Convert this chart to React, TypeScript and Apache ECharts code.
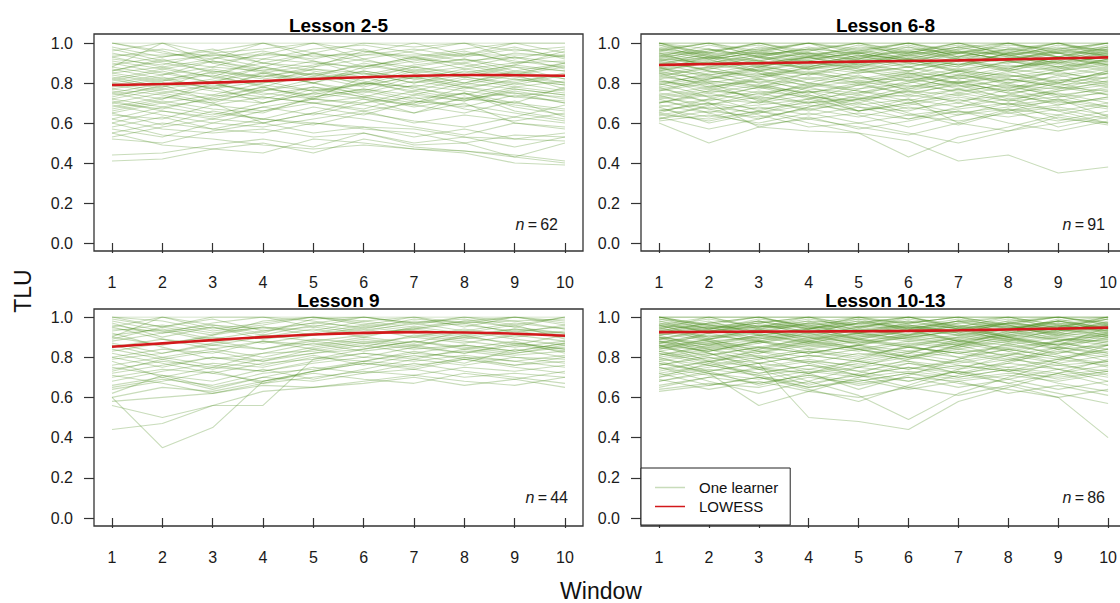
import React, { useEffect, useRef } from "react";
import * as echarts from "echarts";

const FONT = "'Liberation Sans', Arial, Helvetica, sans-serif";
const GREEN = "rgba(72,140,28,0.3)";
const RED = "#d3181b";

const windows = [1, 2, 3, 4, 5, 6, 7, 8, 9, 10];
const panelTitles = ["Lesson 2-5", "Lesson 6-8", "Lesson 9", "Lesson 10-13"];
const panelN = [62, 91, 44, 86];

// TLU per learner, in percent, windows 1..10
const lesson2to5: number[][] = [
  [100,100,100,100,100,100,100,100,100,100],[94,94,94,94,94,94,94,94,94,94],
  [100,95,92,100,93,95,100,94,100,95],[88,100,90,94,100,92,96,100,92,97],
  [92,89,95,90,88,96,92,90,95,93],[85,88,83,92,90,88,93,87,90,91],
  [80,84,88,86,91,84,89,92,86,90],[90,85,80,88,83,90,85,88,93,87],
  [78,82,85,80,87,83,88,84,89,86],[75,80,78,84,80,86,82,87,84,88],
  [83,78,86,82,85,79,86,83,80,85],[72,77,74,80,83,78,84,80,86,82],
  [70,75,79,76,82,85,80,86,83,80],[68,73,70,77,74,80,78,83,79,84],
  [65,70,74,72,78,75,81,77,82,79],[62,68,72,70,75,80,76,82,78,81],
  [87,82,77,85,80,76,83,79,84,77],[95,90,86,83,88,92,86,90,85,89],
  [76,72,80,75,72,83,77,74,80,76],[73,79,71,76,80,74,70,78,75,73],
  [80,76,72,78,85,81,75,71,77,74],[66,71,67,65,73,77,72,75,70,78],
  [64,62,69,73,70,67,74,71,76,72],[60,66,63,68,72,69,65,73,69,66],
  [82,87,91,86,80,88,93,89,84,90],[98,93,97,90,95,88,92,96,90,94],
  [86,91,88,95,92,97,90,94,98,92],[77,74,69,66,72,76,71,68,74,70],
  [71,66,62,68,64,70,73,67,63,69],[69,64,60,58,62,66,60,64,61,65],
  [55,60,57,62,59,65,61,58,63,60],[53,58,62,60,65,62,58,54,60,57],
  [52,50,56,60,55,58,53,57,52,55],[44,45,49,52,48,55,50,53,48,53],
  [41,42,47,50,45,52,48,46,43,50],[55,49,47,45,52,50,47,46,44,41],
  [60,54,52,49,47,49,47,45,40,39],[62,57,55,57,53,55,49,50,43,40],
  [75,70,65,62,60,58,57,53,52,51],[58,63,57,55,60,57,55,50,54,53],
  [67,72,78,70,75,72,69,75,66,62],[79,75,70,60,65,72,65,70,60,58],
  [84,80,76,73,70,66,70,75,68,64],[91,87,83,79,76,80,78,72,75,70],
  [88,84,91,87,84,89,85,80,77,74],[74,78,82,88,84,80,87,83,88,82],
  [81,86,80,74,78,73,68,72,78,75],[93,97,93,88,95,91,88,92,88,86],
  [100,96,90,85,89,94,97,93,97,93],[96,100,95,97,100,96,93,97,100,100],
  [89,93,96,100,95,100,98,100,96,98],[85,81,87,83,87,85,80,84,82,79],
  [79,83,77,81,76,79,83,78,73,77],[70,67,73,78,72,70,76,72,70,67],
  [57,53,60,66,70,73,69,65,71,63],[65,59,66,62,68,64,71,69,65,61],
  [72,68,64,70,77,73,79,76,73,71],[77,81,84,78,73,77,74,80,85,80],
  [82,77,81,85,82,86,82,78,81,84],[86,92,85,90,86,82,88,85,89,96],
  [93,88,92,96,91,87,91,95,91,88],[97,91,94,92,97,99,95,91,93,90],
];

const lesson6to8: number[][] = [
  [100,100,100,100,100,100,100,100,100,100],[100,100,100,100,100,100,100,100,100,100],
  [95,95,95,95,95,95,95,95,95,95],[100,95,100,96,100,95,100,96,100,95],
  [96,100,95,100,96,100,95,100,96,100],[93,96,100,94,97,100,93,97,100,96],
  [100,93,96,100,92,96,100,94,97,100],[94,97,93,98,94,92,97,100,95,97],
  [97,92,95,93,98,95,92,96,93,98],[91,94,97,92,95,98,94,91,96,94],
  [92,90,94,97,91,94,98,93,90,95],[89,93,91,95,93,90,96,94,98,93],
  [95,91,89,93,96,92,89,95,92,96],[88,92,95,90,88,94,91,97,93,91],
  [90,87,92,95,91,88,93,90,95,92],[86,90,88,92,95,91,88,93,89,94],
  [93,89,86,90,93,96,92,88,91,97],[85,88,91,87,90,93,89,92,95,90],
  [97,94,90,88,92,89,95,92,88,91],[84,87,90,93,89,86,91,94,90,93],
  [91,86,84,89,86,90,87,90,93,89],[87,84,88,85,89,92,86,89,86,90],
  [82,86,83,88,85,88,92,87,84,88],[94,89,93,91,87,84,90,86,91,87],
  [80,84,87,84,88,85,83,88,90,86],[88,83,86,82,85,88,84,81,86,89],
  [83,80,84,87,83,81,86,84,81,85],[79,83,80,85,82,86,82,85,88,84],
  [86,81,78,83,80,83,80,83,85,82],[78,82,85,80,77,80,84,80,83,87],
  [81,78,82,79,83,78,81,78,80,83],[76,80,77,82,79,82,78,82,79,81],
  [84,79,75,78,81,77,80,76,82,78],[74,78,81,77,75,79,76,79,77,80],
  [77,73,78,75,79,75,79,75,78,76],[72,76,74,79,76,73,77,73,76,79],
  [75,71,76,73,71,76,74,78,74,77],[70,74,72,76,74,70,75,71,73,75],
  [73,69,73,70,72,74,71,74,70,72],[68,72,70,74,69,72,68,72,75,70],
  [71,67,69,72,66,69,73,69,72,68],[66,70,67,70,73,67,70,66,69,73],
  [69,65,71,67,70,64,67,70,66,70],[64,68,65,69,66,70,65,68,71,67],
  [67,63,68,64,68,66,72,65,68,64],[62,66,63,67,63,68,64,67,64,69],
  [65,61,66,62,65,62,66,63,67,62],[61,64,60,65,60,64,61,65,61,66],
  [90,84,78,72,75,81,86,82,78,85],[82,75,70,78,84,76,70,77,84,79],
  [95,88,82,76,70,77,84,91,86,80],[87,93,86,80,86,92,85,79,73,78],
  [76,82,88,93,87,81,75,80,86,92],[70,76,82,88,94,88,82,87,93,88],
  [65,72,78,85,80,74,80,86,80,74],[85,78,72,66,72,78,83,77,71,76],
  [92,86,80,74,68,62,68,74,80,86],[80,73,66,72,79,85,79,72,66,60],
  [74,67,62,68,74,80,86,80,74,68],[68,60,65,71,64,58,64,70,62,60],
  [63,57,62,68,72,65,59,66,72,63],[60,50,58,63,57,61,66,60,56,61],
  [72,65,59,62,58,54,60,56,63,59],[66,70,58,56,55,43,53,58,64,60],
  [64,62,66,60,55,51,41,44,35,38],[78,70,64,58,60,55,50,56,60,64],
  [88,80,71,76,66,72,60,67,58,63],[99,92,85,78,72,76,81,75,69,73],
  [62,69,75,70,77,83,77,71,77,83],[96,100,93,87,92,98,92,86,92,98],
  [100,94,88,93,99,94,89,95,100,93],[89,95,100,95,89,95,100,94,88,94],
  [93,99,94,88,93,99,93,100,95,89],[98,93,97,100,95,91,96,91,97,100],
  [100,97,91,96,100,93,98,100,93,97],[91,96,99,93,88,92,97,93,99,96],
  [97,100,96,91,95,100,95,98,93,99],[86,91,96,100,97,92,88,95,100,94],
  [94,90,86,91,96,100,96,91,87,92],[99,95,91,87,91,95,99,95,91,95],
  [92,97,93,97,100,96,93,97,95,100],[96,92,98,94,90,94,98,94,90,96],
  [90,93,89,94,92,97,95,99,97,93],[87,90,94,97,95,91,95,92,96,98],
  [83,88,93,89,94,90,86,91,88,92],[79,85,89,84,90,86,91,87,93,89],
  [85,82,87,91,86,83,87,83,87,91],[81,77,83,86,81,85,80,84,80,86],
  [77,81,79,75,80,84,80,76,81,85],[73,77,73,80,76,71,77,82,78,74],
  [70,75,79,73,66,70,74,69,76,81],
];

const lesson9: number[][] = [
  [100,100,100,100,100,100,100,100,100,100],[100,95,100,100,95,100,97,100,96,100],
  [95,100,94,97,100,96,100,95,100,97],[94,93,96,94,97,95,98,96,93,95],
  [93,96,92,95,93,98,95,98,95,92],[97,90,95,91,96,93,97,93,97,94],
  [91,94,89,93,95,92,94,97,92,96],[88,92,95,89,92,96,93,90,94,91],
  [90,86,91,95,91,94,90,94,90,93],[85,89,86,90,94,90,95,92,96,89],
  [83,87,90,87,91,95,92,89,93,90],[80,84,82,88,86,90,87,93,89,86],
  [79,82,86,84,88,85,91,88,85,88],[76,80,84,80,85,89,86,90,87,84],
  [74,78,75,82,83,87,84,86,83,87],[72,76,80,78,82,84,88,84,88,82],
  [70,74,72,77,79,82,80,83,80,79],[68,73,77,75,80,78,83,79,82,85],
  [66,70,75,73,77,80,78,81,78,81],[65,69,66,72,74,78,76,79,76,78],
  [64,68,73,67,70,73,71,75,73,76],[62,71,65,70,68,72,74,70,72,70],
  [60,65,63,68,72,69,67,72,69,73],[58,60,62,66,65,68,71,68,66,70],
  [56,50,56,63,65,67,70,66,69,65],[44,47,56,56,79,84,88,85,82,86],
  [60,35,45,68,73,78,82,80,76,80],[78,70,64,70,75,72,77,73,70,67],
  [82,77,72,68,73,77,74,79,75,72],[75,71,68,74,69,74,79,76,80,77],
  [86,80,76,73,78,82,79,84,81,83],[80,75,80,76,81,76,81,77,84,80],
  [92,85,79,82,87,83,86,82,87,84],[98,93,88,84,89,87,90,87,91,88],
  [95,89,84,88,84,88,85,91,86,91],[87,82,87,91,88,91,94,91,94,92],
  [73,79,83,78,84,80,85,82,86,83],[84,79,74,79,82,86,82,86,83,87],
  [99,95,91,98,100,97,94,98,100,96],[89,95,99,93,97,100,96,100,98,94],
  [96,92,97,100,98,94,99,97,100,98],[90,100,96,92,99,100,97,99,95,100],
  [100,98,93,96,100,98,100,97,98,99],[71,67,62,67,73,77,75,80,78,75],
];

const lesson10to13: number[][] = [
  [100,100,100,100,100,100,100,100,100,100],[100,100,100,100,100,100,100,100,100,100],
  [100,100,100,100,100,100,100,100,100,100],[95,95,95,95,95,95,95,95,95,95],
  [100,96,100,95,100,97,100,96,100,97],[96,100,95,100,96,100,95,100,96,100],
  [100,94,97,100,93,97,100,94,98,100],[93,97,100,94,98,95,93,98,100,96],
  [97,93,96,92,97,100,96,93,97,94],[92,96,93,97,94,91,97,95,92,98],
  [98,92,95,98,92,95,92,97,94,96],[94,98,91,94,99,93,95,91,96,93],
  [91,94,97,91,95,98,94,97,93,95],[89,93,95,96,91,94,98,92,95,99],
  [96,90,93,89,94,90,93,96,90,94],[90,87,91,94,90,93,89,94,97,92],
  [87,91,88,92,88,91,94,90,93,97],[93,89,92,87,91,88,91,95,91,89],
  [85,89,93,90,87,92,88,91,94,91],[88,85,89,93,89,86,90,87,91,95],
  [92,88,85,89,92,89,86,93,88,93],[84,88,90,86,90,94,91,88,92,90],
  [86,83,87,91,87,90,93,89,86,92],[90,86,83,87,84,88,85,91,89,88],
  [83,87,84,88,85,82,88,86,90,87],[88,84,88,84,88,85,82,85,88,91],
  [81,85,82,86,83,87,84,88,84,86],[85,81,85,82,86,83,87,83,87,84],
  [80,84,80,84,81,85,82,86,82,88],[83,79,83,80,84,80,84,81,85,82],
  [78,82,79,83,79,83,80,84,80,84],[82,78,81,77,82,79,83,79,83,80],
  [76,80,77,81,78,82,78,82,79,83],[79,76,80,78,76,80,77,81,77,81],
  [74,78,75,79,75,78,75,79,76,78],[77,73,77,74,78,74,78,75,79,76],
  [72,76,72,76,73,77,74,77,74,78],[75,71,74,72,75,72,76,73,76,73],
  [70,74,71,74,71,75,72,75,72,76],[68,72,69,73,70,73,70,74,71,74],
  [66,70,67,71,68,72,69,72,70,73],[64,67,65,70,67,70,68,71,68,72],
  [63,66,70,67,71,68,73,69,74,70],[90,82,74,66,72,79,86,80,74,68],
  [95,88,80,72,64,71,79,87,81,75],[80,73,66,72,79,86,80,73,67,63],
  [86,78,70,64,58,66,74,81,88,82],[75,68,62,68,75,82,89,83,77,71],
  [91,84,77,50,48,44,58,65,72,79],[88,82,75,68,61,49,62,70,78,86],
  [82,76,71,65,68,72,67,64,60,40],[78,72,56,63,70,77,72,67,62,57],
  [96,89,83,77,71,65,71,77,84,90],[99,94,88,82,86,91,96,90,84,78],
  [70,77,84,90,84,78,72,78,85,91],[85,92,98,92,86,80,86,92,98,93],
  [94,100,94,88,94,100,94,88,94,100],[100,95,89,94,100,94,88,93,99,94],
  [92,97,100,95,89,93,98,100,94,90],[97,92,87,92,97,100,95,90,95,100],
  [89,94,99,96,92,97,100,96,91,96],[100,96,92,97,100,96,92,97,100,96],
  [95,99,95,99,95,99,95,99,95,99],[98,94,98,94,98,94,98,94,98,94],
  [93,97,94,98,96,93,97,100,96,92],[99,96,93,96,99,97,94,97,100,97],
  [91,95,98,94,97,95,99,95,98,95],[96,93,97,100,95,98,94,98,93,99],
  [87,92,96,93,97,94,98,96,92,96],[94,90,94,97,93,96,93,97,95,91],
  [89,86,90,95,92,95,91,94,98,94],[92,95,91,87,92,96,92,89,93,97],
  [84,89,94,90,95,91,87,92,96,93],[81,86,91,88,92,89,94,90,86,95],
  [87,83,88,93,89,85,90,94,89,86],[79,83,88,85,89,93,88,84,88,92],
  [76,81,85,82,86,90,86,90,86,89],[73,78,82,88,84,80,85,89,85,81],
  [71,75,79,83,80,85,82,78,82,86],[68,73,77,81,78,74,79,84,80,77],
  [65,70,75,72,77,81,76,73,79,84],[83,77,72,76,71,75,70,74,69,73],
  [77,72,67,71,66,70,65,69,64,68],[86,80,74,78,73,68,73,67,72,66],
  [72,66,70,65,69,64,68,62,66,61],[69,64,68,63,60,65,61,66,60,64],
];

const lowess2to5 = [0.79, 0.795, 0.802, 0.81, 0.82, 0.829, 0.836, 0.84, 0.839, 0.836];
const lowess6to8 = [0.89, 0.895, 0.899, 0.903, 0.907, 0.91, 0.913, 0.918, 0.923, 0.928];
const lowess9 = [0.852, 0.869, 0.885, 0.9, 0.913, 0.921, 0.925, 0.923, 0.917, 0.907];
const lowess10to13 = [0.925, 0.926, 0.927, 0.928, 0.929, 0.931, 0.934, 0.938, 0.942, 0.947];

const learnerSets = [lesson2to5, lesson6to8, lesson9, lesson10to13];
const lowessSets = [lowess2to5, lowess6to8, lowess9, lowess10to13];

const grids = [
  { left: 112, top: 43, width: 453, height: 200 },
  { left: 659, top: 43, width: 453, height: 200 },
  { left: 112, top: 317, width: 453, height: 201 },
  { left: 659, top: 317, width: 453, height: 201 },
];
const boxes = [
  { x: 94, y: 34, width: 489, height: 217 },
  { x: 641, y: 34, width: 489, height: 217 },
  { x: 94, y: 309, width: 489, height: 217 },
  { x: 641, y: 309, width: 489, height: 217 },
];

export default function App() {
  const ref = useRef<HTMLDivElement>(null);
  useEffect(() => {
    if (!ref.current) return;
    const chart = echarts.init(ref.current, undefined, { renderer: "svg" });

    const series: any[] = [];
    learnerSets.forEach((set, pi) => {
      set.forEach((row) => {
        series.push({
          type: "line",
          name: "One learner",
          xAxisIndex: pi,
          yAxisIndex: pi,
          data: row.map((v, i) => [windows[i], v / 100]),
          symbol: "none",
          showSymbol: false,
          silent: true,
          color: GREEN,
          lineStyle: { color: GREEN, width: 1.1 },
          itemStyle: { color: GREEN },
          z: 2,
        });
      });
    });
    lowessSets.forEach((set, pi) => {
      series.push({
        type: "line",
        name: "LOWESS",
        xAxisIndex: pi,
        yAxisIndex: pi,
        data: set.map((v, i) => [windows[i], v]),
        symbol: "none",
        showSymbol: false,
        smooth: 0.3,
        silent: true,
        color: RED,
        lineStyle: { color: RED, width: 2.6 },
        itemStyle: { color: RED },
        z: 3,
      });
    });

    const axisText = { fontSize: 16, color: "#1a1a1a", fontFamily: FONT };

    const graphic: any[] = [];
    boxes.forEach((b) => {
      graphic.push({
        type: "rect",
        shape: { x: b.x, y: b.y, width: b.width, height: b.height },
        style: { fill: "none", stroke: "#333", lineWidth: 1.3 },
        z: 10,
        silent: true,
      });
    });
    const titlePos = [
      [338.5, 25],
      [885.5, 25],
      [338.5, 300],
      [885.5, 300],
    ];
    panelTitles.forEach((t, i) => {
      graphic.push({
        type: "text",
        x: titlePos[i][0],
        y: titlePos[i][1],
        style: {
          text: t,
          align: "center",
          verticalAlign: "middle",
          fontSize: 19,
          fontWeight: "bold",
          fontFamily: FONT,
          fill: "#000",
        },
        z: 11,
      });
    });
    const nPos = [
      [558, 224],
      [1105, 224],
      [568, 497],
      [1105, 497],
    ];
    panelN.forEach((n, i) => {
      graphic.push({
        type: "text",
        x: nPos[i][0],
        y: nPos[i][1],
        style: {
          text: "{i|n}\u2009=\u2009" + n,
          align: "right",
          verticalAlign: "middle",
          fontSize: 16,
          fontFamily: FONT,
          fill: "#1a1a1a",
          rich: { i: { fontStyle: "italic", fontSize: 16, fontFamily: FONT, fill: "#1a1a1a" } },
        },
        z: 11,
      });
    });
    graphic.push({
      type: "text",
      x: 23,
      y: 291,
      rotation: Math.PI / 2,
      style: {
        text: "TLU",
        align: "center",
        verticalAlign: "middle",
        fontSize: 23,
        fontFamily: FONT,
        fill: "#111",
      },
    });
    graphic.push({
      type: "text",
      x: 601,
      y: 591,
      style: {
        text: "Window",
        align: "center",
        verticalAlign: "middle",
        fontSize: 23,
        fontFamily: FONT,
        fill: "#111",
      },
    });

    chart.setOption({
      animation: false,
      backgroundColor: "#fff",
      grid: grids.map((g) => ({ ...g, containLabel: false })),
      xAxis: grids.map((_, i) => ({
        type: "value",
        gridIndex: i,
        min: 1,
        max: 10,
        interval: 1,
        offset: 8,
        axisLine: { show: false },
        axisTick: { show: true, length: 10, lineStyle: { color: "#333", width: 1.2 } },
        axisLabel: { ...axisText, margin: 23 },
        splitLine: { show: false },
      })),
      yAxis: grids.map((_, i) => ({
        type: "value",
        gridIndex: i,
        min: 0,
        max: 1,
        interval: 0.2,
        offset: 18,
        axisLine: { show: false },
        axisTick: { show: true, length: 10, lineStyle: { color: "#333", width: 1.2 } },
        axisLabel: { ...axisText, margin: 21, formatter: (v: number) => v.toFixed(1) },
        splitLine: { show: false },
      })),
      legend: {
        data: ["One learner", "LOWESS"],
        orient: "vertical",
        left: 641,
        top: 468,
        padding: [10, 12, 9, 14],
        itemWidth: 30,
        itemHeight: 1.5,
        itemGap: 0,
        icon: "rect",
        selectedMode: false,
        backgroundColor: "#fff",
        borderColor: "#222",
        borderWidth: 1,
        borderRadius: 0,
        textStyle: { fontSize: 15, color: "#111", fontFamily: FONT, lineHeight: 19, padding: [0, 0, 0, 9] },
        z: 20,
      },
      graphic,
      series,
    });
    return () => chart.dispose();
  }, []);
  return (
    <div
      ref={ref}
      style={{ position: "absolute", left: 0, top: 0, width: 1120, height: 603, background: "#fff" }}
    />
  );
}
